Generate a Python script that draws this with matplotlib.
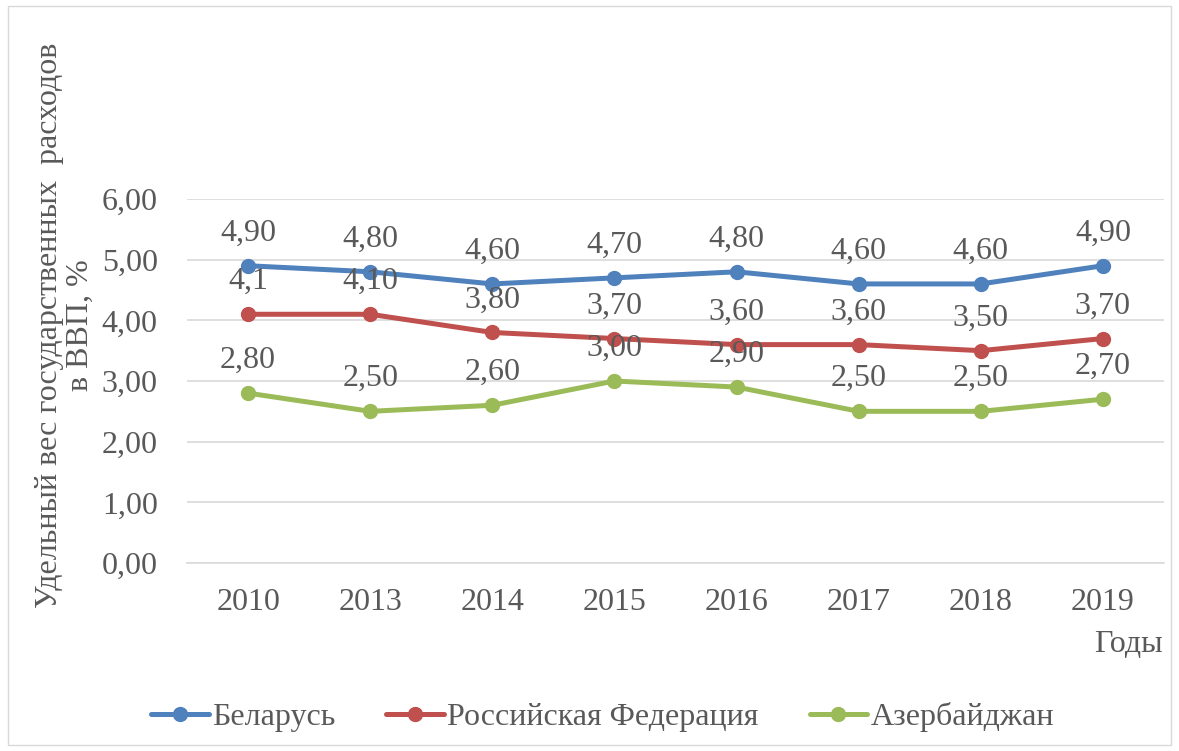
import matplotlib
matplotlib.use("Agg")
import matplotlib.pyplot as plt
from matplotlib.patches import Rectangle

years = ["2010", "2013", "2014", "2015", "2016", "2017", "2018", "2019"]
belarus = [4.90, 4.80, 4.60, 4.70, 4.80, 4.60, 4.60, 4.90]
russia = [4.10, 4.10, 3.80, 3.70, 3.60, 3.60, 3.50, 3.70]
azerbaijan = [2.80, 2.50, 2.60, 3.00, 2.90, 2.50, 2.50, 2.70]
russia_labels = ["4,1", "4,10", "3,80", "3,70", "3,60", "3,60", "3,50", "3,70"]
yticks = [0, 1, 2, 3, 4, 5, 6]

plt.rcParams['font.family'] = ['Liberation Serif', 'DejaVu Serif']
TXT = "#595959"
FS = 23

W, H = 1179, 751
fig = plt.figure(figsize=(W/100, H/100), dpi=100)
fig.patches.append(Rectangle((8/W, 6/H), (W-16)/W, (H-12)/H, transform=fig.transFigure,
                             fill=False, edgecolor="#d9d9d9", linewidth=1))
ax = fig.add_axes([187/W, 1-563/H, (1164-187)/W, (563-199)/H])

x = list(range(len(years)))
series = [
    ("Беларусь", belarus, "#4F81BD", [f"{v:.2f}".replace(".", ",") for v in belarus]),
    ("Российская Федерация", russia, "#C0504D", russia_labels),
    ("Азербайджан", azerbaijan, "#9BBB59", [f"{v:.2f}".replace(".", ",") for v in azerbaijan]),
]
for name, vals, col, labs in series:
    ax.plot(x, vals, color=col, linewidth=3.6, marker="o", markersize=10,
            label=name, solid_capstyle="round")
    for xi, v, lab in zip(x, vals, labs):
        ax.annotate(lab, (xi, v), xytext=(0, 13), textcoords="offset points",
                    ha="center", va="bottom", fontsize=FS, color=TXT)

ax.set_xlim(-0.5, len(years)-0.5)
ax.set_ylim(0, 6)
ax.set_yticks(yticks)
ax.set_yticklabels([f"{t:.2f}".replace(".", ",") for t in yticks])
ax.set_xticks(x)
ax.set_xticklabels(years)
ax.tick_params(axis="both", length=0, labelsize=FS, labelcolor=TXT)
ax.tick_params(axis="y", pad=21)
ax.tick_params(axis="x", pad=18)
ax.grid(axis="y", color="#d9d9d9", linewidth=1.2)
ax.set_axisbelow(True)
for s in ["top", "right", "left"]:
    ax.spines[s].set_visible(False)
ax.spines["bottom"].set_color("#d9d9d9")
ax.spines["bottom"].set_linewidth(1.2)

fig.text(65/W, 1-325/H, "Удельный вес государственных  расходов\nв ВВП, %",
         rotation=90, ha="center", va="center", fontsize=FS, color=TXT,
         linespacing=1.1)
fig.text(1163/W, 1-645/H, "Годы", ha="right", va="center", fontsize=FS, color=TXT)

leg = fig.legend(loc="center", bbox_to_anchor=(0.5 + 13/W, 1-717/H), ncol=3, frameon=False,
                 fontsize=FS, labelcolor=TXT, handlelength=1.8, handletextpad=0.1,
                 columnspacing=1.6, borderaxespad=0)

fig.savefig("out.png", dpi=100)
